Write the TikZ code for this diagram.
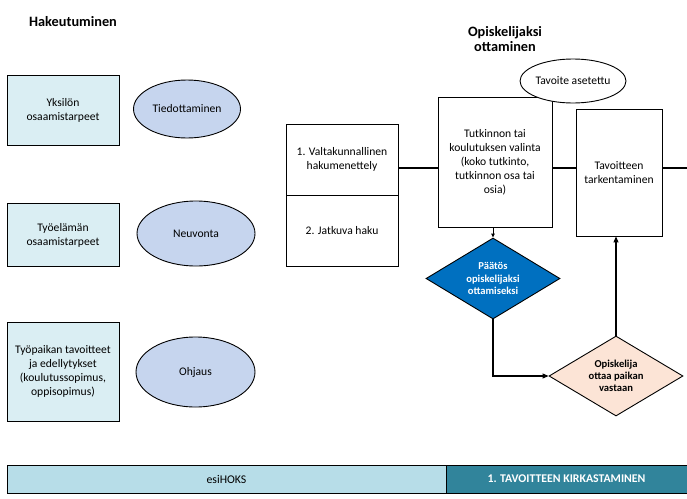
\documentclass[tikz,border=0pt]{standalone}
\usepackage{fontspec}
\setmainfont{Carlito}
\usetikzlibrary{shapes.geometric,arrows.meta}
\definecolor{boxblue}{HTML}{DAEEF3}
\definecolor{ellblue}{HTML}{C6D5EE}
\definecolor{dblue}{HTML}{0070C0}
\definecolor{peach}{HTML}{FCE4D6}
\definecolor{barlight}{HTML}{B7DDE8}
\definecolor{barteal}{HTML}{31849B}
\tikzset{
  lbox/.style={draw, line width=0.9pt, fill=boxblue, align=center, font=\fontsize{11.6}{14}\selectfont, inner sep=0pt},
  wbox/.style={draw, line width=0.9pt, fill=white, align=center, font=\fontsize{11.6}{14}\selectfont, inner sep=0pt},
  ell/.style={draw, line width=0.9pt, fill=ellblue, ellipse, inner sep=0pt, font=\fontsize{11.6}{14}\selectfont},
  ttl/.style={font=\fontsize{14.3}{15}\selectfont\bfseries, align=center},
  dia/.style={draw, line width=0.9pt, diamond, aspect=1.65, inner sep=0pt, align=center, font=\fontsize{10.6}{12.2}\selectfont\bfseries},
  conn/.style={line width=1.1pt},
  arr/.style={line width=1.1pt, -{Triangle[length=6pt,width=5pt]}},
  bar/.style={draw, line width=0.9pt, inner sep=0pt, font=\fontsize{11.8}{12}\selectfont},
}
\begin{document}
\begin{tikzpicture}[x=1pt,y=-1pt]
\useasboundingbox (0,0) rectangle (687,498);
% titles
\node[ttl] (t1) at (73,22) {Hakeutuminen};
\node[ttl] (t2) at (505,39) {Opiskelijaksi\\ottaminen};
% left boxes
\node[lbox, minimum width=112pt, minimum height=70pt] (b1) at (63,110) {Yksilön\\osaamistarpeet};
\node[lbox, minimum width=112pt, minimum height=63pt] (b2) at (63,235) {Työelämän\\osaamistarpeet};
\node[lbox, minimum width=112pt, minimum height=99pt] (b3) at (63,371.5) {Työpaikan tavoitteet\\ja edellytykset\\(koulutussopimus,\\oppisopimus)};
% ellipses
\node[ell, minimum width=107pt, minimum height=58pt] (e1) at (187,109) {Tiedottaminen};
\node[ell, minimum width=118pt, minimum height=65pt] (e2) at (196,233.5) {Neuvonta};
\node[ell, minimum width=119pt, minimum height=70pt] (e3) at (195.5,372) {Ohjaus};
% split box
\node[wbox, minimum width=112pt, minimum height=71pt] (s1) at (342,159.5) {1. Valtakunnallinen\\hakumenettely};
\node[wbox, minimum width=112pt, minimum height=71pt] (s2) at (342,230.5) {2. Jatkuva haku};
% tutkinnon
\node[wbox, minimum width=114pt, minimum height=130pt] (tk) at (495,162) {Tutkinnon tai\\koulutuksen valinta\\(koko tutkinto,\\tutkinnon osa tai\\osia)};
\node[wbox, minimum width=86pt, minimum height=127pt] (tv) at (619,172.5) {Tavoitteen\\tarkentaminen};
\node[draw, line width=0.9pt, fill=white, ellipse, inner sep=0pt, minimum width=100pt, minimum height=44pt, font=\fontsize{11.6}{14}\selectfont] (ta) at (573,81) {Tavoite asetettu};
% diamonds
\node[dia, fill=dblue, text=white, minimum width=134pt, minimum height=81pt] (d1) at (493,278.5) {Päätös\\opiskelijaksi\\ottamiseksi};
\node[dia, fill=peach, text=black, minimum width=134pt, minimum height=80pt] (d2) at (616,376) {Opiskelija\\ottaa paikan\\vastaan};
% connectors
\coordinate (eR) at (687,168);
\draw[conn] (s1.east |- 0,168) -- (tk.west |- 0,168);
\draw[conn] (tk.east |- 0,168) -- (tv.west |- 0,168);
\draw[conn] (tv.east |- 0,168) -- (eR);
\draw[line width=0.9pt, -{Triangle[length=4pt,width=3.5pt]}] (tk.south -| d1.north) -- (d1.north);
\draw[arr] (d1.south) |- (d2.west);
\draw[arr] (d2.north) -- (tv.south -| d2.north);
% bars
\node[bar, fill=barlight, minimum width=439pt, minimum height=28pt] (bl) at (226.5,479) {esiHOKS};
\node[bar, fill=barteal, text=white, font=\fontsize{11.8}{12}\selectfont\bfseries, minimum width=241pt, minimum height=28pt] (br) at (566.5,479) {1. TAVOITTEEN KIRKASTAMINEN};
\end{tikzpicture}
\end{document}
